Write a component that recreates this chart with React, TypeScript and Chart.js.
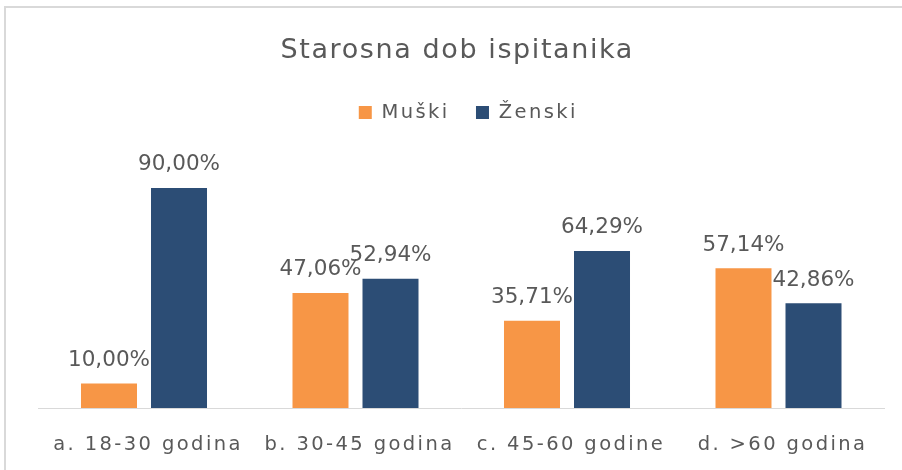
import React, { useEffect, useRef } from "react";
import { Chart, registerables } from "chart.js";

Chart.register(...registerables);

const chartTitle = "Starosna dob ispitanika";
const categories = ["a. 18-30 godina", "b. 30-45 godina", "c. 45-60 godine", "d. >60 godina"];
const seriesNames = ["Muški", "Ženski"];
const muski = [10.0, 47.06, 35.71, 57.14];
const zenski = [90.0, 52.94, 64.29, 42.86];

const FONT = "'DejaVu Sans', sans-serif";
const TEXT = "#595959";
const ORANGE = "#F79646";
const NAVY = "#2C4D75";
const SPACING = "2.4px";

function wrapDraw(obj: any, key: string, chart: any, dx: number, spacing?: string) {
  if (!obj || obj["__wrapped_" + key]) return;
  const orig = obj[key].bind(obj);
  obj[key] = (...args: any[]) => {
    const ctx = chart.ctx;
    ctx.save();
    if (spacing) ctx.letterSpacing = spacing;
    ctx.translate(dx, 0);
    orig(...args);
    ctx.restore();
  };
  obj["__wrapped_" + key] = true;
}

const spacingPlugin = {
  id: "letterSpacing",
  afterInit(chart: any) {
    wrapDraw(chart.titleBlock, "draw", chart, -4, "1.6px");
    wrapDraw(chart.legend, "draw", chart, 7);
  },
  afterLayout(chart: any) {
    wrapDraw(chart.scales.x, "drawLabels", chart, 4);
  },
  beforeUpdate(chart: any) {
    chart.ctx.letterSpacing = SPACING;
  },
  beforeLayout(chart: any) {
    chart.ctx.letterSpacing = SPACING;
  },
  beforeDraw(chart: any) {
    chart.ctx.letterSpacing = SPACING;
  },
};

const dataLabelPlugin = {
  id: "dataLabels",
  afterDatasetsDraw(chart: any) {
    const ctx = chart.ctx;
    ctx.save();
    ctx.letterSpacing = "0px";
    ctx.font = `21.5px ${FONT}`;
    ctx.fillStyle = TEXT;
    ctx.textAlign = "center";
    ctx.textBaseline = "alphabetic";
    chart.data.datasets.forEach((ds: any, i: number) => {
      const meta = chart.getDatasetMeta(i);
      meta.data.forEach((bar: any, j: number) => {
        const v = ds.data[j] as number;
        ctx.fillText(v.toFixed(2).replace(".", ",") + "%", bar.x, bar.y - 17.6);
      });
    });
    ctx.restore();
  },
};

export default function App() {
  const canvasRef = useRef<HTMLCanvasElement | null>(null);

  useEffect(() => {
    if (!canvasRef.current) return;
    const chart = new Chart(canvasRef.current, {
      type: "bar",
      data: {
        labels: categories,
        datasets: [
          { label: seriesNames[0], data: muski, backgroundColor: ORANGE, borderWidth: 0 },
          { label: seriesNames[1], data: zenski, backgroundColor: NAVY, borderWidth: 0 },
        ],
      },
      options: {
        responsive: true,
        maintainAspectRatio: false,
        animation: false,
        layout: { padding: { left: 38.25, right: 17.75, top: 0, bottom: 8 } },
        datasets: { bar: { categoryPercentage: 0.662, barPercentage: 0.8 } } as any,
        plugins: {
          title: {
            display: true,
            text: chartTitle,
            color: TEXT,
            font: { family: FONT, size: 27, weight: "normal", lineHeight: 1.2 },
            padding: { top: 35.2, bottom: 8.85 },
          },
          legend: {
            display: true,
            position: "top",
            labels: {
              color: TEXT,
              font: { family: FONT, size: 19.5 },
              boxWidth: 13,
              boxHeight: 13,
              padding: 26.4,
            },
          },
          tooltip: { enabled: false },
        },
        scales: {
          x: {
            grid: { display: false, drawTicks: false },
            border: { display: true, color: "#d9d9d9", width: 1 },
            ticks: {
              color: TEXT,
              font: { family: FONT, size: 19.5 },
              padding: 25.3,
              maxRotation: 0,
              autoSkip: false,
            },
          },
          y: { display: false, min: 0, max: 112.8 },
        },
      },
      plugins: [spacingPlugin, dataLabelPlugin],
    });
    chart.update();
    return () => chart.destroy();
  }, []);

  return (
    <div
      style={{
        position: "fixed",
        left: 0,
        top: 0,
        width: 902,
        height: 470,
        overflow: "hidden",
        background: "#ffffff",
      }}
    >
      <div
        style={{
          position: "absolute",
          left: 4,
          top: 6,
          width: 2000,
          height: 2000,
          borderTop: "2px solid #d9d9d9",
          borderLeft: "2px solid #d9d9d9",
        }}
      />
      <div style={{ position: "absolute", left: 0, top: 0, width: 902, height: 490 }}>
        <canvas ref={canvasRef} />
      </div>
    </div>
  );
}
